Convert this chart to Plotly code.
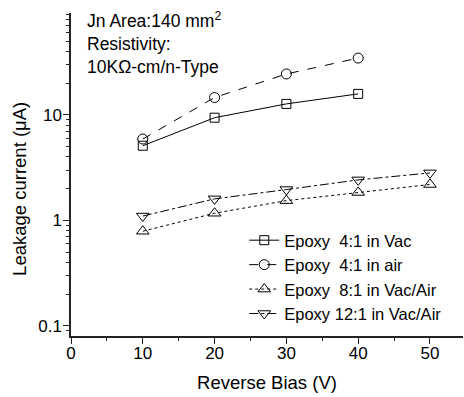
import plotly.graph_objects as go

bias_a = [10, 20, 30, 40]
bias_b = [10, 20, 30, 40, 50]
epoxy4_vac = [5.1, 9.4, 12.7, 15.8]
epoxy4_air = [5.9, 14.6, 24.4, 34.5]
epoxy8_vacair = [0.79, 1.17, 1.54, 1.84, 2.19]
epoxy12_vacair = [1.10, 1.60, 1.96, 2.42, 2.82]

names = ["Epoxy\u00a0\u00a04:1 in Vac", "Epoxy\u00a0\u00a04:1 in air",
         "Epoxy\u00a0\u00a08:1 in Vac/Air", "Epoxy 12:1 in Vac/Air"]

FONT = "Liberation Sans, Arial, Helvetica, sans-serif"

fig = go.Figure()
series = [
    (bias_a, epoxy4_vac, names[0], "square-open", "solid", 9),
    (bias_a, epoxy4_air, names[1], "circle-open", "dash", 10),
    (bias_b, epoxy8_vacair, names[2], "triangle-up-open", "dot", 11),
    (bias_b, epoxy12_vacair, names[3], "triangle-down-open", "dashdot", 11),
]
for x, y, n, sym, dash, sz in series:
    fig.add_trace(go.Scatter(
        x=x, y=y, name=n, mode="lines+markers",
        line=dict(color="black", width=1, dash=dash),
        marker=dict(symbol=sym, size=sz, color="black", line=dict(width=1, color="black")),
    ))

fig.update_layout(
    width=464, height=397,
    margin=dict(l=71, r=1, t=13, b=61),
    paper_bgcolor="white", plot_bgcolor="white",
    font=dict(family=FONT, size=16, color="black"),
    showlegend=True,
    legend=dict(x=0.442, y=0.35, xanchor="left", yanchor="top",
                bgcolor="rgba(0,0,0,0)", borderwidth=0,
                font=dict(size=16.5, family=FONT), tracegroupgap=0,
                itemwidth=30),
    xaxis=dict(range=[0, 54.6], dtick=10, tick0=0,
               showline=True, linecolor="#222", linewidth=1.5, mirror=False,
               ticks="outside", ticklen=6, tickwidth=1, tickcolor="#222",
               minor=dict(dtick=5, ticks="outside", ticklen=3, tickcolor="#222"),
               showgrid=False, zeroline=False, ticklabelstandoff=-5,
               title=dict(text="Reverse Bias (V)", font=dict(size=18.5), standoff=14),
               tickfont=dict(size=17)),
    yaxis=dict(type="log", range=[-1.095, 1.965], dtick=1,
               showline=True, linecolor="#222", linewidth=1.5, mirror=False,
               ticks="outside", ticklen=6, tickwidth=1, tickcolor="#222",
               minor=dict(dtick="D1", ticks="outside", ticklen=3, tickcolor="#222"),
               showgrid=False, zeroline=False, ticklabelstandoff=-2,
               tickfont=dict(size=17)),
)

fig.add_annotation(
    xref="paper", yref="paper", x=0.035, y=1.02, xanchor="left", yanchor="top",
    align="left", showarrow=False,
    text="Jn Area:140 mm<sup>2</sup><br>Resistivity:<br>10K\u03a9-cm/n-Type",
    font=dict(size=17.5, family=FONT),
)

fig.add_annotation(
    xref="paper", yref="paper", x=-0.133, y=0.455, xanchor="center", yanchor="middle",
    textangle=-90, showarrow=False,
    text="Leakage current (\u03bcA)",
    font=dict(size=18.5, family=FONT),
)

fig.write_html("out.html", config={"displayModeBar": False},
               post_script="document.body.style.margin='0';document.body.style.overflow='hidden';")
